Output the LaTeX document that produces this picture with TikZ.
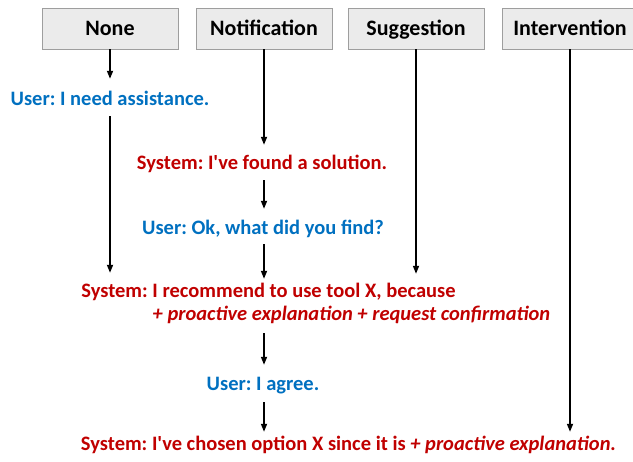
\documentclass[tikz,border=0pt]{standalone}
\usepackage{fontspec}
\setmainfont{Carlito}[Ligatures=TeXOff]
\usetikzlibrary{arrows.meta}
\definecolor{userblue}{HTML}{0070C0}
\definecolor{sysred}{HTML}{C00000}
\frenchspacing
\begin{document}
\begin{tikzpicture}[x=1pt, y=-1pt,
    level/.style={draw=black!38, fill=black!8, line width=0.8pt, minimum width=136pt, minimum height=41pt, text height=16pt, text depth=1pt, font=\fontsize{22}{26}\selectfont\bfseries},
    msg/.style={inner sep=0pt, text height=13pt, text depth=4pt, anchor=base, font=\fontsize{20.5}{24}\selectfont\bfseries},
    user/.style={msg, text=userblue},
    sys/.style={msg, text=sysred},
    flow/.style={-{Triangle[width=6pt,length=8pt]}, line width=1.6pt, shorten <=6pt, shorten >=12pt}]
    \useasboundingbox (0,0) rectangle (633,462);
    \node[level] (none) at (110,28.5) {None};
    \node[level] (notif) at (264,28.5) {Notification};
    \node[level] (sugg) at (416,28.5) {Suggestion};
    \node[level] (interv) at (570,28.5) {Intervention};
    \node[user] (u1) at (110,106) {User: I need assistance.};
    \node[sys] (s1) at (262,170) {System: I've found a solution.};
    \node[user] (u2) at (263,235) {User: Ok, what did you find?};
    \node[sys] (s2) at (268.5,298) {System: I recommend to use tool X, because};
    \node[sys] (s2r) at (351.5,321) {\itshape + proactive explanation + request confirmation};
    \node[user] (u3) at (263,391) {User: I agree.};
    \node[sys] (s3) at (348.5,451) {System: I've chosen option X since it is \textit{+ proactive explanation.}};
    \draw[flow, shorten <=0pt, shorten >=14pt] (none.south) -- (none.south |- u1.north);
    \draw[flow] (none.south |- u1.south) -- (none.south |- s2.north);
    \draw[flow, shorten <=0pt] (notif.south) -- (notif.south |- s1.north);
    \draw[flow, shorten >=13pt] (notif.south |- s1.south) -- (notif.south |- u2.north);
    \draw[flow, shorten <=5pt, shorten >=6pt] (notif.south |- u2.south) -- (notif.south |- s2.north);
    \draw[flow, shorten <=0pt, shorten >=11pt] (sugg.south) -- (sugg.south |- s2.north);
    \draw[flow, shorten <=8pt, shorten >=13pt] (notif.south |- s2r.south) -- (notif.south |- u3.north);
    \draw[flow, shorten <=7pt, shorten >=6pt] (notif.south |- u3.south) -- (notif.south |- s3.north);
    \draw[flow, shorten <=0pt, shorten >=6pt] (interv.south) -- (interv.south |- s3.north);
\end{tikzpicture}
\end{document}
